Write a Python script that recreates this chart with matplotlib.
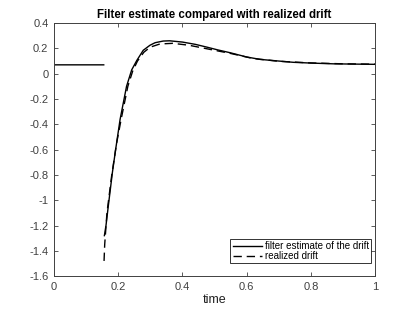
import numpy as np
import matplotlib
matplotlib.use('Agg')
import matplotlib.pyplot as plt

plt.rcParams['font.family'] = ['Liberation Sans', 'DejaVu Sans']

# filter estimate (nan = gap before the estimate starts)
t_est = [0.0, 0.155, np.nan, 0.157, 0.162, 0.169, 0.182, 0.192, 0.206, 0.226, 0.242,
         0.258, 0.278, 0.299, 0.315, 0.34, 0.36, 0.4, 0.44, 0.476, 0.51, 0.548,
         0.6, 0.642, 0.7, 0.745, 0.8, 0.87, 0.93, 1.0]
est = [0.07, 0.07, np.nan, -1.28, -1.2, -1.05, -0.78, -0.6, -0.36, -0.1, 0.03,
       0.105, 0.185, 0.225, 0.245, 0.258, 0.26, 0.25, 0.232, 0.21, 0.188, 0.166,
       0.132, 0.113, 0.1, 0.09, 0.084, 0.078, 0.076, 0.074]

# realized drift
t_drift = [0.156, 0.158, 0.165, 0.18, 0.195, 0.21, 0.23, 0.245, 0.26, 0.28, 0.3,
           0.33, 0.37, 0.42, 0.48, 0.55, 0.62, 0.7, 0.8, 0.9, 1.0]
drift = [-1.48, -1.35, -1.1, -0.8, -0.55, -0.35, -0.1, 0.02, 0.1, 0.17, 0.21,
         0.235, 0.24, 0.225, 0.195, 0.16, 0.12, 0.098, 0.085, 0.078, 0.075]

xticks = [0, 0.2, 0.4, 0.6, 0.8, 1]
xlabels = ['0', '0.2', '0.4', '0.6', '0.8', '1']
yticks = [0.4, 0.2, 0, -0.2, -0.4, -0.6, -0.8, -1, -1.2, -1.4, -1.6]
ylabels = ['0.4', '0.2', '0', '-0.2', '-0.4', '-0.6', '-0.8', '-1', '-1.2', '-1.4', '-1.6']

fig = plt.figure(figsize=(4.15, 3.12), dpi=100)
ax = fig.add_axes([0.130, 0.115, 0.774, 0.811])

ax.plot(t_est, est, color='black', lw=1.0, label='filter estimate of the drift')
ax.plot(t_drift, drift, color='black', lw=1.0, dashes=(6, 3.5), label='realized drift')

ax.set_xlim(0, 1)
ax.set_ylim(-1.6, 0.4)
ax.set_xticks(xticks)
ax.set_xticklabels(xlabels)
ax.set_yticks(yticks)
ax.set_yticklabels(ylabels)
ax.tick_params(direction='in', top=True, right=True, labelsize=8, colors='#404040',
               length=3, width=0.6, pad=4)
for s in ax.spines.values():
    s.set_color('#404040')
    s.set_linewidth(0.7)

ax.set_xlabel('time', fontsize=9, color='#202020', labelpad=2)
ax.set_title('Filter estimate compared with realized drift', fontsize=8.3,
             fontweight='bold', pad=4)

leg = ax.legend(loc='lower right', bbox_to_anchor=(0.9875, 0.05), fontsize=7,
                frameon=True, fancybox=False, borderpad=0.25, labelspacing=0.0,
                handlelength=3.0, handletextpad=0.3, borderaxespad=0)
leg.get_frame().set_edgecolor('black')
leg.get_frame().set_linewidth(0.7)

fig.savefig('out.png', dpi=100)
